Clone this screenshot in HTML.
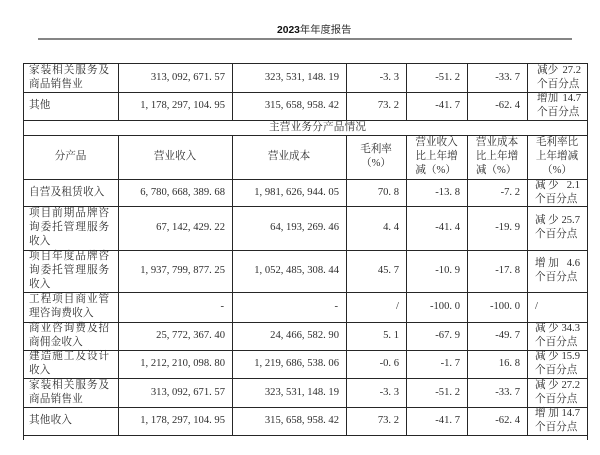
<!DOCTYPE html>
<html lang="zh">
<head>
<meta charset="utf-8">
<style>
html,body{margin:0;padding:0;}
body{width:600px;height:455px;background:#fff;position:relative;overflow:hidden;
  font-family:"Liberation Serif","Noto Serif CJK SC",serif;color:#2e2e2e;}
.h{position:absolute;height:1px;background:#262626;}
.v{position:absolute;width:1px;background:#262626;}
.c{position:absolute;display:flex;align-items:center;box-sizing:border-box;font-size:10.6px;line-height:14px;white-space:nowrap;}
.l{justify-content:flex-start;padding-left:6px;}
.r{justify-content:flex-end;padding-right:7px;}
.m{justify-content:center;}
.k1{left:23px;width:95px;}
.k2{left:118px;width:114px;}
.k3{left:232px;width:114px;}
.k4{left:346px;width:60px;}
.k5{left:406px;width:61px;}
.k6{left:467px;width:60px;}
.k7{left:527px;width:60px;padding-left:8px;}
.f{letter-spacing:1px;}
.s{letter-spacing:0.2px;}
.ctr{text-align:center;}
.p{width:45px;}
.q{display:flex;justify-content:space-between;}
.jj{letter-spacing:2.5px;}
.num{font-family:"Liberation Serif",serif;}
</style>
</head>
<body>

<!-- title -->
<div style="position:absolute;left:277px;top:23px;font-size:10.3px;line-height:16px;white-space:nowrap;font-family:'Liberation Sans','Noto Sans CJK SC',sans-serif;color:#333;"><b style="color:#111">2023</b>年年度报告</div>
<div style="position:absolute;left:38px;top:38px;width:534px;height:2px;background:#858585;"></div>

<!-- horizontal lines -->
<div class="h" style="left:23px;width:565px;top:63px"></div>
<div class="h" style="left:23px;width:565px;top:92px"></div>
<div class="h" style="left:23px;width:565px;top:120px"></div>
<div class="h" style="left:23px;width:565px;top:135px"></div>
<div class="h" style="left:23px;width:565px;top:179px"></div>
<div class="h" style="left:23px;width:565px;top:206px"></div>
<div class="h" style="left:23px;width:565px;top:250px"></div>
<div class="h" style="left:23px;width:565px;top:292px"></div>
<div class="h" style="left:23px;width:565px;top:322px"></div>
<div class="h" style="left:23px;width:565px;top:350px"></div>
<div class="h" style="left:23px;width:565px;top:378px"></div>
<div class="h" style="left:23px;width:565px;top:407px"></div>
<div class="h" style="left:23px;width:565px;top:435px"></div>

<!-- vertical lines -->
<div class="v" style="left:23px;top:63px;height:377px"></div>
<div class="v" style="left:587px;top:63px;height:377px"></div>

<div class="v" style="left:118px;top:63px;height:57px"></div>
<div class="v" style="left:232px;top:63px;height:57px"></div>
<div class="v" style="left:346px;top:63px;height:57px"></div>
<div class="v" style="left:406px;top:63px;height:57px"></div>
<div class="v" style="left:467px;top:63px;height:57px"></div>
<div class="v" style="left:527px;top:63px;height:57px"></div>

<div class="v" style="left:118px;top:135px;height:300px"></div>
<div class="v" style="left:232px;top:135px;height:300px"></div>
<div class="v" style="left:346px;top:135px;height:300px"></div>
<div class="v" style="left:406px;top:135px;height:300px"></div>
<div class="v" style="left:467px;top:135px;height:300px"></div>
<div class="v" style="left:527px;top:135px;height:300px"></div>

<!-- Row A -->
<div class="c k1 l" style="top:63px;height:29px"><div><div class="f">家装相关服务及</div><div class="s">商品销售业</div></div></div>
<div class="c k2 r num" style="top:63px;height:29px">313, 092, 671. 57</div>
<div class="c k3 r num" style="top:63px;height:29px">323, 531, 148. 19</div>
<div class="c k4 r num" style="top:63px;height:29px">-3. 3</div>
<div class="c k5 r num" style="top:63px;height:29px">-51. 2</div>
<div class="c k6 r num" style="top:63px;height:29px">-33. 7</div>
<div class="c k7" style="top:63px;height:29px;padding-left:10px"><div class="p" style="width:44px"><div class="q"><span>减少</span><span>27.2</span></div><div>个百分点</div></div></div>

<!-- Row B -->
<div class="c k1 l" style="top:92px;height:28px"><div class="s">其他</div></div>
<div class="c k2 r num" style="top:92px;height:28px">1, 178, 297, 104. 95</div>
<div class="c k3 r num" style="top:92px;height:28px">315, 658, 958. 42</div>
<div class="c k4 r num" style="top:92px;height:28px">73. 2</div>
<div class="c k5 r num" style="top:92px;height:28px">-41. 7</div>
<div class="c k6 r num" style="top:92px;height:28px">-62. 4</div>
<div class="c k7" style="top:92px;height:28px;padding-left:10px"><div class="p" style="width:44px"><div class="q"><span>增加</span><span>14.7</span></div><div>个百分点</div></div></div>

<!-- Row C merged -->
<div class="c" style="left:269px;top:120px;height:15px"><div class="s">主营业务分产品情况</div></div>

<!-- Header row -->
<div class="c k1 m" style="top:135px;height:44px"><div>分产品</div></div>
<div class="c k2 m" style="top:135px;height:44px"><div>营业收入</div></div>
<div class="c k3 m" style="top:135px;height:44px"><div>营业成本</div></div>
<div class="c k4 m" style="top:135px;height:44px"><div class="ctr"><div>毛利率</div><div>（%）</div></div></div>
<div class="c k5 m" style="top:135px;height:44px"><div><div>营业收入</div><div>比上年增</div><div>减（%）</div></div></div>
<div class="c k6 m" style="top:135px;height:44px"><div><div>营业成本</div><div>比上年增</div><div>减（%）</div></div></div>
<div class="c m" style="left:527px;width:60px;top:135px;height:44px"><div class="ctr"><div>毛利率比</div><div>上年增减</div><div>（%）</div></div></div>

<!-- Row D -->
<div class="c k1 l" style="top:179px;height:27px"><div class="s">自营及租赁收入</div></div>
<div class="c k2 r num" style="top:179px;height:27px">6, 780, 668, 389. 68</div>
<div class="c k3 r num" style="top:179px;height:27px">1, 981, 626, 944. 05</div>
<div class="c k4 r num" style="top:179px;height:27px">70. 8</div>
<div class="c k5 r num" style="top:179px;height:27px">-13. 8</div>
<div class="c k6 r num" style="top:179px;height:27px">-7. 2</div>
<div class="c k7" style="top:179px;height:27px"><div class="p"><div class="q"><span class="jj">减少</span><span>2.1</span></div><div>个百分点</div></div></div>

<!-- Row E -->
<div class="c k1 l" style="top:206px;height:44px"><div><div class="f">项目前期品牌咨</div><div class="f">询委托管理服务</div><div class="s">收入</div></div></div>
<div class="c k2 r num" style="top:206px;height:44px">67, 142, 429. 22</div>
<div class="c k3 r num" style="top:206px;height:44px">64, 193, 269. 46</div>
<div class="c k4 r num" style="top:206px;height:44px">4. 4</div>
<div class="c k5 r num" style="top:206px;height:44px">-41. 4</div>
<div class="c k6 r num" style="top:206px;height:44px">-19. 9</div>
<div class="c k7" style="top:206px;height:44px"><div class="p"><div class="q"><span class="jj">减少</span><span>25.7</span></div><div>个百分点</div></div></div>

<!-- Row F -->
<div class="c k1 l" style="top:250px;height:42px"><div><div class="f">项目年度品牌咨</div><div class="f">询委托管理服务</div><div class="s">收入</div></div></div>
<div class="c k2 r num" style="top:250px;height:42px">1, 937, 799, 877. 25</div>
<div class="c k3 r num" style="top:250px;height:42px">1, 052, 485, 308. 44</div>
<div class="c k4 r num" style="top:250px;height:42px">45. 7</div>
<div class="c k5 r num" style="top:250px;height:42px">-10. 9</div>
<div class="c k6 r num" style="top:250px;height:42px">-17. 8</div>
<div class="c k7" style="top:250px;height:42px"><div class="p"><div class="q"><span class="jj">增加</span><span>4.6</span></div><div>个百分点</div></div></div>

<!-- Row G -->
<div class="c k1 l" style="top:292px;height:30px"><div><div class="f">工程项目商业管</div><div class="s">理咨询费收入</div></div></div>
<div class="c k2 r num" style="top:292px;height:30px;padding-right:8px">-</div>
<div class="c k3 r num" style="top:292px;height:30px;padding-right:8px">-</div>
<div class="c k4 r num" style="top:292px;height:30px">/</div>
<div class="c k5 r num" style="top:292px;height:30px">-100. 0</div>
<div class="c k6 r num" style="top:292px;height:30px">-100. 0</div>
<div class="c k7" style="top:292px;height:30px"><div class="p">/</div></div>

<!-- Row H -->
<div class="c k1 l" style="top:322px;height:28px"><div><div class="f">商业咨询费及招</div><div class="s">商佣金收入</div></div></div>
<div class="c k2 r num" style="top:322px;height:28px">25, 772, 367. 40</div>
<div class="c k3 r num" style="top:322px;height:28px">24, 466, 582. 90</div>
<div class="c k4 r num" style="top:322px;height:28px">5. 1</div>
<div class="c k5 r num" style="top:322px;height:28px">-67. 9</div>
<div class="c k6 r num" style="top:322px;height:28px">-49. 7</div>
<div class="c k7" style="top:322px;height:28px"><div class="p"><div class="q"><span class="jj">减少</span><span>34.3</span></div><div>个百分点</div></div></div>

<!-- Row I -->
<div class="c k1 l" style="top:350px;height:28px"><div><div class="f">建造施工及设计</div><div class="s">收入</div></div></div>
<div class="c k2 r num" style="top:350px;height:28px">1, 212, 210, 098. 80</div>
<div class="c k3 r num" style="top:350px;height:28px">1, 219, 686, 538. 06</div>
<div class="c k4 r num" style="top:350px;height:28px">-0. 6</div>
<div class="c k5 r num" style="top:350px;height:28px">-1. 7</div>
<div class="c k6 r num" style="top:350px;height:28px">16. 8</div>
<div class="c k7" style="top:350px;height:28px"><div class="p"><div class="q"><span class="jj">减少</span><span>15.9</span></div><div>个百分点</div></div></div>

<!-- Row J -->
<div class="c k1 l" style="top:378px;height:29px"><div><div class="f">家装相关服务及</div><div class="s">商品销售业</div></div></div>
<div class="c k2 r num" style="top:378px;height:29px">313, 092, 671. 57</div>
<div class="c k3 r num" style="top:378px;height:29px">323, 531, 148. 19</div>
<div class="c k4 r num" style="top:378px;height:29px">-3. 3</div>
<div class="c k5 r num" style="top:378px;height:29px">-51. 2</div>
<div class="c k6 r num" style="top:378px;height:29px">-33. 7</div>
<div class="c k7" style="top:378px;height:29px"><div class="p"><div class="q"><span class="jj">减少</span><span>27.2</span></div><div>个百分点</div></div></div>

<!-- Row K -->
<div class="c k1 l" style="top:407px;height:28px"><div class="s">其他收入</div></div>
<div class="c k2 r num" style="top:407px;height:28px">1, 178, 297, 104. 95</div>
<div class="c k3 r num" style="top:407px;height:28px">315, 658, 958. 42</div>
<div class="c k4 r num" style="top:407px;height:28px">73. 2</div>
<div class="c k5 r num" style="top:407px;height:28px">-41. 7</div>
<div class="c k6 r num" style="top:407px;height:28px">-62. 4</div>
<div class="c k7" style="top:407px;height:28px"><div class="p"><div class="q"><span class="jj">增加</span><span>14.7</span></div><div>个百分点</div></div></div>

</body>
</html>
